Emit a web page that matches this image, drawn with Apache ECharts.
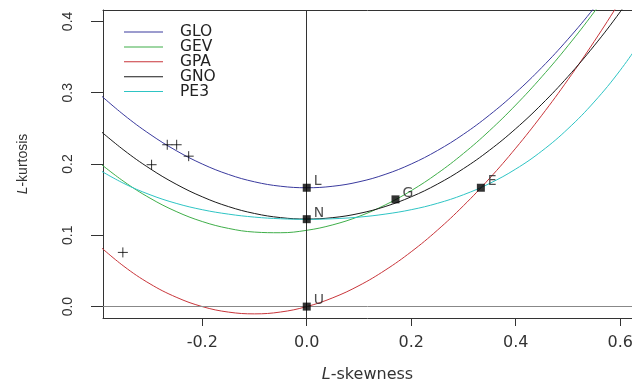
<!DOCTYPE html>
<html>
<head>
<meta charset="utf-8">
<script src="https://cdn.jsdelivr.net/npm/echarts@6/dist/echarts.min.js"></script>
<style>html,body{margin:0;padding:0;background:#fff}#c{width:632px;height:381px}</style>
</head>
<body>
<div id="c"></div>
<script>
// L-skewness grid
const tau3 = [-0.40,-0.35,-0.30,-0.25,-0.20,-0.15,-0.10,-0.05,0.00,0.05,0.10,0.15,0.20,0.25,0.30,0.35,0.40,0.45,0.50,0.55,0.60,0.65];
// L-kurtosis per distribution curve
const glo = [0.3000,0.2688,0.2417,0.2188,0.2000,0.1854,0.1750,0.1688,0.1667,0.1688,0.1750,0.1854,0.2000,0.2188,0.2417,0.2688,0.3000,0.3354,0.3750,0.4188,0.4667,0.5188];
const gev = [0.2034,0.1754,0.1521,0.1334,0.1193,0.1097,0.1045,0.1036,0.1070,0.1147,0.1265,0.1425,0.1626,0.1867,0.2148,0.2468,0.2827,0.3224,0.3658,0.4130,0.4638,0.5182];
const gpa = [0.0870,0.0565,0.0319,0.0132,0.0000,-0.0077,-0.0102,-0.0076,0.0000,0.0124,0.0294,0.0510,0.0769,0.1071,0.1415,0.1799,0.2222,0.2684,0.3182,0.3716,0.4286,0.4889];
const gno = [0.2495,0.2194,0.1935,0.1717,0.1540,0.1403,0.1306,0.1248,0.1228,0.1248,0.1306,0.1403,0.1540,0.1717,0.1935,0.2194,0.2495,0.2839,0.3226,0.3657,0.4134,0.4656];
const pe3 = [0.1929,0.1727,0.1569,0.1448,0.1359,0.1297,0.1255,0.1232,0.1224,0.1232,0.1255,0.1297,0.1359,0.1448,0.1569,0.1727,0.1929,0.2182,0.2494,0.2869,0.3314,0.3835];
// special distribution points
const ptNames = ['L','N','U','G','E'];
const ptX = [0, 0, 0, 0.1699, 0.3333];
const ptY = [0.1667, 0.1226, 0, 0.1504, 0.1667];
// sample L-moment ratios (+)
const sampX = [-0.267, -0.249, -0.226, -0.297, -0.352];
const sampY = [0.227, 0.227, 0.211, 0.199, 0.076];
// ticks
const xTicks = [-0.2, 0, 0.2, 0.4, 0.6];
const yTicks = [0, 0.1, 0.2, 0.3, 0.4];

const curves = [
  {name:'GLO', vals: glo, color:'#3a3a9e'},
  {name:'GEV', vals: gev, color:'#3fae49'},
  {name:'GPA', vals: gpa, color:'#c8353a'},
  {name:'GNO', vals: gno, color:'#1a1a1a'},
  {name:'PE3', vals: pe3, color:'#2ec4c4'}
];
const FONT = 'DejaVu Sans';
const VFONT = 'Liberation Sans';
const chart = echarts.init(document.getElementById('c'), null, {renderer:'canvas'});
const series = curves.map(c => ({
  name: c.name, type:'line', data: tau3.map((t,i)=>[t, c.vals[i]]),
  symbol:'none', smooth:0.4, lineStyle:{color:c.color, width:1}, itemStyle:{color:c.color},
  clip:true, z:3, silent:true
}));
series.push({
  type:'scatter', data: sampX.map((x,i)=>[x, sampY[i]]),
  symbol:'path://M0,5L10,5M5,0L5,10', symbolSize:10,
  itemStyle:{color:'none', borderColor:'#000', borderWidth:1}, z:4, silent:true,
  markLine:{silent:true, symbol:'none', label:{show:false},
    data:[{yAxis:0, lineStyle:{color:'#888', width:1, type:'solid'}},
          {xAxis:0, lineStyle:{color:'#333', width:1, type:'solid'}}]}
});
series.push({
  type:'scatter', data: ptNames.map((n,i)=>({name:n, value:[ptX[i], ptY[i]]})),
  symbol:'rect', symbolSize:8, itemStyle:{color:'#000'}, z:5, silent:true,
  label:{show:true, formatter:'{b}', position:'right', distance:3, offset:[0,-6],
    fontFamily:FONT, fontSize:14, color:'#222'}
});
chart.setOption({
  animation:false,
  backgroundColor:'#fff',
  grid:{left:103, top:10, right:0, bottom:63, show:false, outerBoundsMode:'none', containLabel:false},
  legend:{
    data: curves.map(c=>c.name), orient:'vertical', left:124, top:24, padding:0,
    icon:'rect', itemWidth:39, itemHeight:1, itemGap:-1.1,
    textStyle:{fontFamily:FONT, fontSize:15.5, lineHeight:15, color:'#222', padding:[0,0,0,12]},
    selectedMode:false
  },
  xAxis:[{
    type:'value', min:-0.39, max:0.6226, position:'bottom',
    axisLine:{show:true, onZero:false, lineStyle:{color:'#333', width:1}},
    splitLine:{show:false},
    axisTick:{show:true, customValues:xTicks, length:8, lineStyle:{color:'#333'}},
    axisLabel:{customValues:xTicks, formatter:v=>v.toFixed(1), margin:17, fontFamily:FONT, fontSize:16, color:'#333'},
    name:'{i|L}-skewness', nameLocation:'middle', nameGap:49,
    nameTextStyle:{fontFamily:FONT, fontSize:16, color:'#333', rich:{i:{fontStyle:'italic', fontFamily:FONT, fontSize:16, color:'#333'}}}
  },{
    type:'value', min:-0.39, max:0.6226, position:'top',
    axisLine:{show:true, onZero:false, lineStyle:{color:'#333', width:1}},
    splitLine:{show:false}, axisTick:{show:false}, axisLabel:{show:false}
  }],
  yAxis:{
    type:'value', min:-0.016, max:0.416, position:'left',
    axisLine:{show:true, onZero:false, lineStyle:{color:'#333', width:1}},
    splitLine:{show:false},
    axisTick:{show:true, customValues:yTicks, length:12, lineStyle:{color:'#333'}},
    axisLabel:{customValues:yTicks, formatter:v=>v.toFixed(1), rotate:90, margin:28, fontFamily:VFONT, fontSize:14, color:'#333'},
    name:'{i|L}-kurtosis', nameLocation:'middle', nameGap:73, nameRotate:90,
    nameTextStyle:{fontFamily:VFONT, fontSize:14, color:'#333', rich:{i:{fontStyle:'italic', fontFamily:VFONT, fontSize:14, color:'#333'}}}
  },
  series
});
</script>
</body>
</html>
